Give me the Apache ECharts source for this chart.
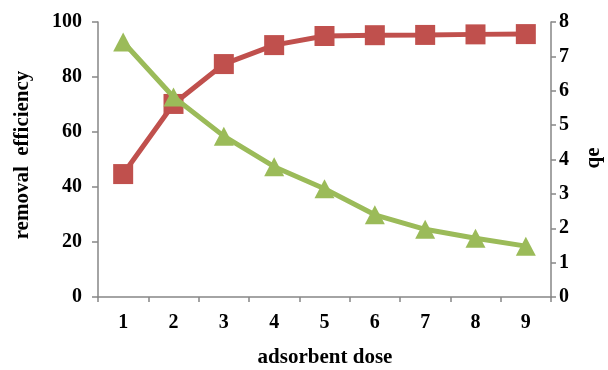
<!DOCTYPE html>
<html>
<head>
<meta charset="utf-8">
<script src="https://cdn.jsdelivr.net/npm/echarts@6/dist/echarts.min.js"></script>
<style>html,body{margin:0;padding:0;background:#fff}#c{width:608px;height:370px}</style>
</head>
<body>
<div id="c"></div>
<script>
const categories = ['1','2','3','4','5','6','7','8','9'];
const removalEfficiency = [44.7, 70.2, 84.7, 91.6, 94.9, 95.2, 95.3, 95.5, 95.6];
const qe = [7.42, 5.82, 4.68, 3.79, 3.15, 2.39, 1.97, 1.71, 1.48];
const xTitle = 'adsorbent dose';
const yLeftTitle = 'removal  efficiency';
const yRightTitle = 'qe';

const FONT = '"Liberation Serif", "Times New Roman", serif';
const axisColor = '#868686';
const chart = echarts.init(document.getElementById('c'), null, {renderer: 'canvas'});
const labelStyle = {fontFamily: FONT, fontWeight: 'bold', fontSize: 20, color: '#000'};
chart.setOption({
  animation: false,
  backgroundColor: '#fff',
  grid: {left: 98, right: 57, top: 22, bottom: 73, containLabel: false},
  xAxis: {
    type: 'category', data: categories, boundaryGap: true,
    axisLine: {lineStyle: {color: axisColor, width: 1.5}},
    axisTick: {show: true, length: 5, alignWithLabel: false, lineStyle: {color: axisColor, width: 1.5}},
    axisLabel: Object.assign({margin: 16}, labelStyle),
    splitLine: {show: false}
  },
  yAxis: [
    {
      type: 'value', min: 0, max: 100, interval: 20, position: 'left',
      axisLine: {show: true, lineStyle: {color: axisColor, width: 1.5}},
      axisTick: {show: true, length: 6, lineStyle: {color: axisColor, width: 1.5}},
      axisLabel: Object.assign({margin: 16}, labelStyle),
      splitLine: {show: false}
    },
    {
      type: 'value', min: 0, max: 8, interval: 1, position: 'right',
      axisLine: {show: true, lineStyle: {color: axisColor, width: 1.5}},
      axisTick: {show: true, length: 5, lineStyle: {color: axisColor, width: 1.5}},
      axisLabel: Object.assign({margin: 8}, labelStyle),
      splitLine: {show: false}
    }
  ],
  series: [
    {
      name: 'removal efficiency', type: 'line', yAxisIndex: 0, data: removalEfficiency,
      symbol: 'rect', symbolSize: 20,
      lineStyle: {color: '#C0504D', width: 5},
      itemStyle: {color: '#C0504D'},
      z: 2
    },
    {
      name: 'qe', type: 'line', yAxisIndex: 1, data: qe,
      symbol: 'triangle', symbolSize: [20, 19],
      lineStyle: {color: '#9BBB59', width: 5},
      itemStyle: {color: '#9BBB59'},
      z: 3
    }
  ],
  graphic: [
    {type: 'text', x: 325, y: 358, style: {text: xTitle, font: 'bold 21px ' + FONT, fill: '#000', textAlign: 'center', textVerticalAlign: 'middle'}},
    {type: 'text', x: 23, y: 155, rotation: Math.PI / 2, style: {text: yLeftTitle, font: 'bold 21px ' + FONT, fill: '#000', textAlign: 'center', textVerticalAlign: 'middle'}},
    {type: 'text', x: 594, y: 158, rotation: Math.PI / 2, style: {text: yRightTitle, font: 'bold 21px ' + FONT, fill: '#000', textAlign: 'center', textVerticalAlign: 'middle'}}
  ]
});
</script>
</body>
</html>
